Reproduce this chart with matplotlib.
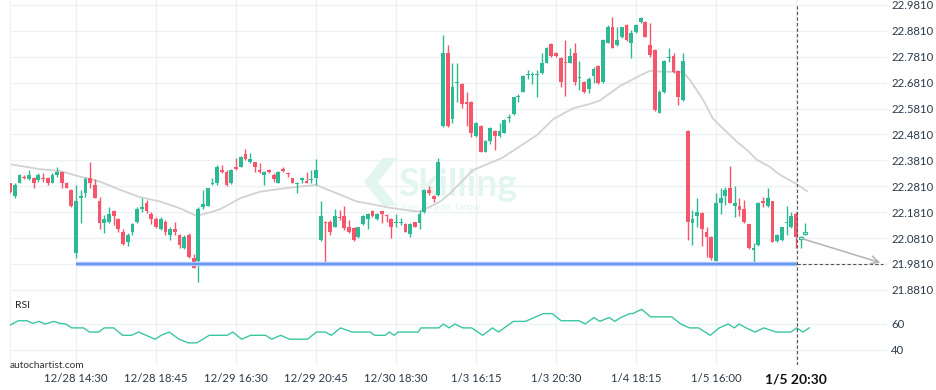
import numpy as np
import matplotlib
matplotlib.use("Agg")
import matplotlib.pyplot as plt
from matplotlib.patches import Polygon

plt.rcParams['font.family'] = ['Lato', 'DejaVu Sans']

# ---------------- data ----------------
first_index = -14          # candle index of the first bar (0 = 12/28 14:30)
opens = [
    22.293, 22.244, 22.295, 22.318, 22.308, 22.312, 22.305, 22.314, 22.312, 22.295,
    22.325, 22.335, 22.293, 22.267, 22.025, 22.237, 22.256, 22.314, 22.286, 22.224,
    22.138, 22.144, 22.186, 22.155, 22.103, 22.067, 22.106, 22.144, 22.193, 22.215,
    22.174, 22.155, 22.115, 22.144, 22.093, 22.115, 22.093, 22.044, 22.093, 22.005,
    21.994, 22.202, 22.206, 22.289, 22.293, 22.344, 22.337, 22.293, 22.357, 22.357,
    22.406, 22.376, 22.374, 22.344, 22.325, 22.344, 22.325, 22.295, 22.347, 22.330,
    22.312, 22.289, 22.305, 22.303, 22.306, 22.314, 22.074, 22.144, 22.144, 22.125,
    22.161, 22.166, 22.123, 22.119, 22.086, 22.135, 22.154, 22.186, 22.155, 22.186,
    22.168, 22.155, 22.141, 22.141, 22.135, 22.096, 22.142, 22.138, 22.183, 22.267,
    22.244, 22.247, 22.514, 22.797, 22.540, 22.679, 22.676, 22.608, 22.608, 22.475,
    22.514, 22.415, 22.457, 22.495, 22.475, 22.488, 22.545, 22.559, 22.625, 22.646,
    22.710, 22.710, 22.710, 22.717, 22.758, 22.829, 22.797, 22.778, 22.758, 22.758,
    22.797, 22.698, 22.685, 22.657, 22.707, 22.746, 22.685, 22.835, 22.895, 22.827,
    22.856, 22.904, 22.835, 22.878, 22.917, 22.914, 22.827, 22.807, 22.565, 22.646,
    22.775, 22.784, 22.727, 22.614, 22.495, 22.138, 22.168, 22.179, 22.103, 22.084,
    21.994, 22.218, 22.245, 22.273, 22.206, 22.205, 22.192, 22.134, 22.035, 22.054,
    22.224, 22.205, 22.224, 22.071, 22.074, 22.138, 22.123, 22.174, 22.078, 22.097,
]
highs = [
    22.295, 22.293, 22.327, 22.325, 22.344, 22.318, 22.334, 22.331, 22.318, 22.331,
    22.354, 22.337, 22.299, 22.269, 22.286, 22.267, 22.318, 22.374, 22.308, 22.241,
    22.170, 22.202, 22.190, 22.157, 22.115, 22.100, 22.141, 22.202, 22.235, 22.228,
    22.183, 22.161, 22.161, 22.151, 22.123, 22.144, 22.097, 22.093, 22.100, 22.018,
    22.202, 22.267, 22.276, 22.312, 22.363, 22.363, 22.344, 22.347, 22.389, 22.398,
    22.424, 22.411, 22.376, 22.370, 22.339, 22.347, 22.331, 22.340, 22.357, 22.337,
    22.314, 22.297, 22.316, 22.335, 22.344, 22.386, 22.224, 22.146, 22.151, 22.192,
    22.190, 22.205, 22.151, 22.123, 22.125, 22.170, 22.179, 22.190, 22.177, 22.187,
    22.174, 22.157, 22.174, 22.159, 22.138, 22.138, 22.144, 22.190, 22.269, 22.282,
    22.247, 22.389, 22.865, 22.827, 22.756, 22.756, 22.679, 22.646, 22.610, 22.530,
    22.518, 22.460, 22.509, 22.497, 22.524, 22.540, 22.559, 22.627, 22.636, 22.711,
    22.730, 22.724, 22.730, 22.797, 22.820, 22.833, 22.801, 22.781, 22.846, 22.814,
    22.833, 22.765, 22.688, 22.704, 22.743, 22.749, 22.849, 22.904, 22.934, 22.895,
    22.897, 22.908, 22.885, 22.908, 22.936, 22.920, 22.913, 22.810, 22.653, 22.769,
    22.815, 22.795, 22.730, 22.795, 22.497, 22.190, 22.236, 22.182, 22.125, 22.089,
    22.254, 22.273, 22.280, 22.361, 22.283, 22.235, 22.228, 22.136, 22.063, 22.222,
    22.241, 22.273, 22.226, 22.097, 22.125, 22.205, 22.183, 22.183, 22.089, 22.138,
]
lows = [
    22.254, 22.235, 22.293, 22.308, 22.305, 22.273, 22.299, 22.299, 22.286, 22.293,
    22.318, 22.273, 22.273, 22.202, 22.003, 22.141, 22.241, 22.273, 22.235, 22.115,
    22.102, 22.141, 22.132, 22.106, 22.053, 22.052, 22.093, 22.141, 22.183, 22.177,
    22.134, 22.119, 22.112, 22.093, 22.074, 22.093, 22.042, 22.038, 22.003, 21.964,
    21.913, 22.193, 22.205, 22.286, 22.286, 22.331, 22.284, 22.290, 22.344, 22.354,
    22.383, 22.370, 22.335, 22.331, 22.286, 22.331, 22.299, 22.293, 22.335, 22.318,
    22.293, 22.254, 22.293, 22.293, 22.295, 22.286, 22.070, 21.984, 22.093, 22.123,
    22.151, 22.112, 22.102, 22.071, 22.083, 22.132, 22.115, 22.164, 22.151, 22.138,
    22.144, 22.083, 22.125, 22.132, 22.103, 22.086, 22.123, 22.115, 22.179, 22.247,
    22.222, 22.244, 22.511, 22.511, 22.524, 22.608, 22.582, 22.514, 22.473, 22.473,
    22.412, 22.412, 22.444, 22.421, 22.473, 22.486, 22.530, 22.556, 22.608, 22.644,
    22.694, 22.676, 22.627, 22.715, 22.756, 22.781, 22.781, 22.666, 22.630, 22.756,
    22.672, 22.653, 22.640, 22.640, 22.679, 22.676, 22.681, 22.833, 22.814, 22.823,
    22.852, 22.843, 22.775, 22.874, 22.913, 22.856, 22.780, 22.572, 22.563, 22.642,
    22.761, 22.718, 22.595, 22.612, 22.074, 22.054, 22.125, 22.050, 22.009, 21.996,
    21.992, 22.174, 22.209, 22.215, 22.161, 22.168, 22.138, 22.039, 21.990, 22.050,
    22.202, 22.200, 22.065, 22.067, 22.070, 22.093, 22.119, 22.042, 22.042, 22.093,
]
closes = [
    22.260, 22.286, 22.325, 22.314, 22.325, 22.295, 22.325, 22.308, 22.295, 22.325,
    22.335, 22.295, 22.276, 22.206, 22.224, 22.244, 22.308, 22.295, 22.237, 22.138,
    22.154, 22.174, 22.168, 22.116, 22.057, 22.093, 22.135, 22.192, 22.202, 22.187,
    22.155, 22.123, 22.154, 22.106, 22.115, 22.103, 22.054, 22.086, 22.009, 21.967,
    22.193, 22.212, 22.273, 22.291, 22.357, 22.337, 22.286, 22.344, 22.347, 22.393,
    22.386, 22.386, 22.357, 22.337, 22.337, 22.337, 22.308, 22.335, 22.340, 22.327,
    22.295, 22.295, 22.312, 22.295, 22.309, 22.344, 22.166, 22.141, 22.106, 22.166,
    22.159, 22.119, 22.106, 22.074, 22.123, 22.166, 22.174, 22.168, 22.174, 22.174,
    22.166, 22.125, 22.144, 22.144, 22.106, 22.134, 22.125, 22.174, 22.267, 22.254,
    22.231, 22.376, 22.797, 22.514, 22.666, 22.685, 22.599, 22.599, 22.488, 22.524,
    22.415, 22.457, 22.505, 22.475, 22.495, 22.537, 22.547, 22.625, 22.630, 22.707,
    22.712, 22.712, 22.712, 22.756, 22.816, 22.784, 22.784, 22.685, 22.756, 22.784,
    22.685, 22.700, 22.646, 22.694, 22.733, 22.679, 22.846, 22.895, 22.816, 22.846,
    22.895, 22.846, 22.874, 22.904, 22.930, 22.859, 22.788, 22.576, 22.646, 22.765,
    22.778, 22.724, 22.627, 22.765, 22.144, 22.154, 22.183, 22.116, 22.086, 22.003,
    22.215, 22.235, 22.267, 22.218, 22.215, 22.190, 22.142, 22.042, 22.042, 22.215,
    22.218, 22.235, 22.067, 22.093, 22.123, 22.141, 22.166, 22.086, 22.084, 22.106,
]
projected_from = 154       # candles from this index on are drawn hollow

ma_idx = [-14, -7.6, -3.4, 0.9, 5.1, 9.4, 13.6, 17.9, 22.1, 25.7, 30.6, 34.9, 39.1,
          43.4, 47.6, 51.0, 55.4, 59.7, 62.5, 66.7, 71.0, 73.1, 77.4, 79.5, 84.4,
          90.5, 98.0, 101.4, 105.6, 109.2, 111.3, 115.6, 119.9, 122.0, 124.1, 129.0,
          130.5, 133.3, 135.3, 136.8, 140.5, 142.6, 144.7, 147.3, 149.6, 153.1, 155.3]
ma_val = [22.366, 22.347, 22.340, 22.318, 22.299, 22.267, 22.239, 22.222, 22.196,
          22.166, 22.192, 22.235, 22.260, 22.271, 22.280, 22.286, 22.254, 22.222,
          22.213, 22.198, 22.187, 22.183, 22.222, 22.254, 22.344, 22.390, 22.479,
          22.540, 22.582, 22.599, 22.612, 22.668, 22.709, 22.727, 22.724, 22.722,
          22.691, 22.614, 22.544, 22.516, 22.452, 22.421, 22.383, 22.358, 22.325,
          22.290, 22.263]

rsi_idx = [-14.2, -12.3, -10.4, -9.2, -7.9, -6.6, -4.7, -3.5, -2.2, -0.9, 1.6, 2.9,
           4.8, 6.0, 8.0, 9.9, 11.8, 13.3, 14.9, 16.8, 18.1, 19.8, 21.9, 23.8, 25.7,
           28.3, 32.1, 33.3, 35.2, 37.1, 40.3, 41.6, 43.5, 45.4, 49.2, 51.1, 53.0,
           54.3, 56.2, 58.7, 62.5, 63.5, 65.7, 66.6, 67.6, 68.5, 72.7, 73.3, 77.1,
           78.1, 79.3, 80.5, 82.2, 84.1, 86.4, 88.5, 89.8, 92.9, 95.5, 97.4, 99.3,
           101.2, 103.1, 106.9, 108.2, 110.1, 111.3, 113.3, 114.5, 115.8, 117.7,
           118.3, 120.2, 122.1, 126.6, 128.5, 130.4, 132.3, 134.8, 136.7, 138.6,
           139.9, 140.9, 142.4, 144.3, 146.2, 148.8, 151.9, 153.2, 154.5, 155.8]
rsi_val = [58.8, 62.5, 62.5, 60.5, 62.0, 60.0, 62.0, 60.5, 60.0, 57.0, 57.0, 53.8,
           53.8, 57.0, 57.0, 51.3, 51.3, 53.8, 51.3, 48.3, 51.3, 53.8, 48.3, 45.5,
           45.5, 51.3, 51.3, 53.8, 48.3, 51.3, 51.3, 48.3, 51.3, 48.3, 48.3, 53.8,
           53.8, 51.3, 57.0, 53.8, 53.8, 51.3, 51.3, 53.8, 51.3, 53.8, 53.8, 57.0,
           57.0, 60.0, 57.0, 60.0, 57.0, 57.0, 51.3, 57.0, 53.8, 62.0, 62.0, 65.0,
           68.0, 68.0, 62.5, 62.5, 60.0, 65.0, 62.0, 65.0, 62.0, 65.0, 68.0, 68.0,
           71.3, 65.5, 65.5, 60.0, 57.0, 57.0, 51.3, 57.0, 60.0, 57.0, 60.0, 57.0,
           53.8, 57.0, 53.8, 53.8, 57.0, 53.8, 57.0]

tick_idx = [0, 17, 34, 51, 68, 85, 102, 119, 136, 153]
tick_labels = ["12/28 14:30", "12/28 18:45", "12/29 16:30", "12/29 20:45",
               "12/30 18:30", "1/3 16:15", "1/3 20:30", "1/4 18:15",
               "1/5 16:00", "1/5 20:30"]
price_ticks = [21.881, 21.981, 22.081, 22.181, 22.281, 22.381, 22.481,
               22.581, 22.681, 22.781, 22.881, 22.981]
rsi_ticks = [40, 60]

support_level = 21.981
support_start = 0
pattern_end = 153.2
forecast_start = (153.9, 22.081)
forecast_end = (171.5, 21.983)

# ---------------- style ----------------
GREEN = '#2cba96'
RED = '#f5566b'
GRID = '#eef1f4'
TXT = '#2b3a4b'
W, H = 936, 390

fig = plt.figure(figsize=(W / 100, H / 100), dpi=100)
fig.patch.set_facecolor('white')


def px_rect(x0, y0, x1, y1):
    return [x0 / W, 1 - y1 / H, (x1 - x0) / W, (y1 - y0) / H]


ax = fig.add_axes(px_rect(10, 0, 887, 298))
axr = fig.add_axes(px_rect(10, 298, 887, 365))
xlim = (-14.03, 172.35)

# watermark (behind candles)
wm = '#e3f5ef'
ax.text(398 / W, 1 - 196 / H, "Skilling", transform=fig.transFigure, fontsize=27,
        fontweight='bold', color=wm, va='baseline', ha='left', zorder=1)
ax.text(400 / W, 1 - 208 / H, "Join. Trade. Grow.", transform=fig.transFigure,
        fontsize=7.5, color=wm, va='center', ha='left', zorder=1)
chev = [(383, 158), (397, 158), (378, 182), (364, 182)]
chev2 = [(364, 182), (378, 182), (397, 206), (383, 206)]
for pts in (chev, chev2):
    ax.add_patch(Polygon([(x / W, 1 - y / H) for x, y in pts], closed=True,
                         transform=fig.transFigure, facecolor=wm, edgecolor='none', zorder=1))

# candles
o = np.array(opens); h = np.array(highs); l = np.array(lows); c = np.array(closes)
idx = np.arange(len(o)) + first_index
up = c >= o
cols = np.where(up, GREEN, RED)
ax.vlines(idx, l, h, colors=cols, linewidth=1, zorder=3)
bottom = np.minimum(o, c)
height = np.maximum(np.abs(c - o), 0.0035)
solid = idx < projected_from
ax.bar(idx[solid], height[solid], bottom=bottom[solid], width=0.8,
       color=cols[solid], linewidth=0, zorder=4)
ax.bar(idx[~solid], height[~solid], bottom=bottom[~solid], width=0.8,
       facecolor='white', edgecolor=cols[~solid], linewidth=0.9, zorder=4)

# moving average
ax.plot(ma_idx, ma_val, color='#d2d2d2', linewidth=1.3, zorder=2)

# support line
ax.hlines(support_level, support_start, pattern_end, color='#a8c5fa', linewidth=3.2, zorder=5)
ax.hlines(support_level, support_start, pattern_end, color='#5b8ef0', linewidth=1.2, zorder=5)
ax.hlines(support_level, pattern_end, forecast_end[0], color='#555555',
          linewidth=0.8, linestyle=(0, (3, 2)), zorder=5)
ax.axvline(pattern_end, ymin=0, ymax=0.985, color='#555555', linewidth=0.8,
           linestyle=(0, (3, 2)), zorder=5)
ax.annotate("", xy=forecast_end, xytext=forecast_start,
            arrowprops=dict(arrowstyle='->', color='#b3b3b3', lw=1.1,
                            mutation_scale=14), zorder=5)

ax.set_xlim(*xlim)
ax.set_ylim(21.8497, 23.0003)
ax.set_yticks(price_ticks)
ax.set_yticklabels([f"{v:.4f}" for v in price_ticks])
ax.yaxis.tick_right()
ax.tick_params(axis='y', length=0, pad=3, labelsize=8.2, labelcolor=TXT)
ax.set_xticks(tick_idx)
ax.tick_params(axis='x', length=0, labelbottom=False)
ax.grid(True, color=GRID, linewidth=1, zorder=0)
ax.set_axisbelow(True)
for s in ax.spines.values():
    s.set_visible(False)
ax.spines['left'].set_visible(True)
ax.spines['left'].set_color(GRID)

# RSI panel
axr.plot(rsi_idx, rsi_val, color='#3cc6a2', linewidth=1, zorder=3)
axr.axvline(pattern_end, color='#555555', linewidth=0.8, linestyle=(0, (3, 2)), zorder=5)
axr.set_xlim(*xlim)
axr.set_ylim(28.46, 80)
axr.set_yticks(rsi_ticks)
axr.yaxis.tick_right()
axr.tick_params(axis='y', length=0, pad=3, labelsize=8.2, labelcolor=TXT)
axr.set_xticks(tick_idx)
axr.set_xticklabels(tick_labels)
axr.tick_params(axis='x', length=0, pad=6, labelsize=8.2, labelcolor=TXT)
lbls = axr.get_xticklabels()
lbls[-1].set_fontweight('bold')
lbls[-1].set_fontsize(10)
lbls[-1].set_color('#111111')
axr.grid(True, color=GRID, linewidth=1, zorder=0)
axr.set_axisbelow(True)
for s in axr.spines.values():
    s.set_visible(False)
axr.spines['left'].set_visible(True)
axr.spines['left'].set_color(GRID)

fig.text(15 / W, 1 - 305 / H, "RSI", fontsize=7.5, color='#222222', va='center', ha='left')
fig.text(10 / W, 1 - 365 / H, "autochartist.com", fontsize=7.3, color='#333333',
         va='center', ha='left')

fig.savefig('out.png', dpi=100, facecolor='white')
